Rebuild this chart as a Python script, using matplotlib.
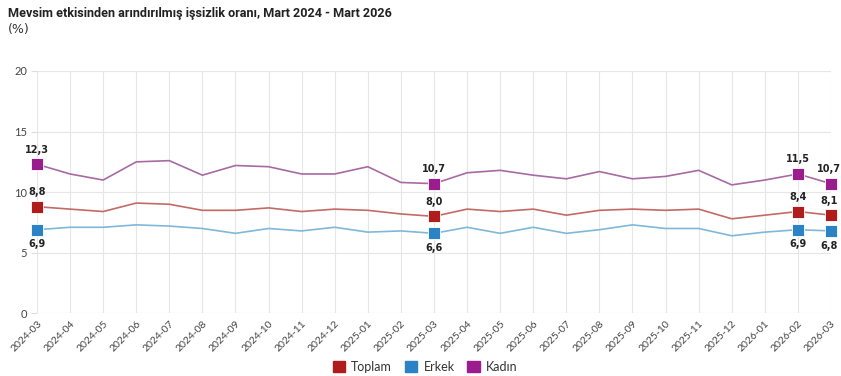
import matplotlib
matplotlib.use("Agg")
import matplotlib.pyplot as plt
from matplotlib.patches import Patch

months = ["2024-03", "2024-04", "2024-05", "2024-06", "2024-07", "2024-08", "2024-09",
          "2024-10", "2024-11", "2024-12", "2025-01", "2025-02", "2025-03", "2025-04",
          "2025-05", "2025-06", "2025-07", "2025-08", "2025-09", "2025-10", "2025-11",
          "2025-12", "2026-01", "2026-02", "2026-03"]

toplam = [8.8, 8.6, 8.4, 9.1, 9.0, 8.5, 8.5, 8.7, 8.4, 8.6, 8.5, 8.2, 8.0, 8.6,
          8.4, 8.6, 8.1, 8.5, 8.6, 8.5, 8.6, 7.8, 8.1, 8.4, 8.1]
erkek = [6.9, 7.1, 7.1, 7.3, 7.2, 7.0, 6.6, 7.0, 6.8, 7.1, 6.7, 6.8, 6.6, 7.1,
         6.6, 7.1, 6.6, 6.9, 7.3, 7.0, 7.0, 6.4, 6.7, 6.9, 6.8]
kadin = [12.3, 11.5, 11.0, 12.5, 12.6, 11.4, 12.2, 12.1, 11.5, 11.5, 12.1, 10.8, 10.7, 11.6,
         11.8, 11.4, 11.1, 11.7, 11.1, 11.3, 11.8, 10.6, 11.0, 11.5, 10.7]

labeled_idx = [0, 12, 23, 24]

series = [
    ("Toplam", toplam, "#b01c1c", "#c46a66", "above"),
    ("Erkek", erkek, "#2b83c6", "#7fb8d8", "below"),
    ("Kadın", kadin, "#9a1c8e", "#a86aa2", "above"),
]

plt.rcParams['font.family'] = ['Lato', 'DejaVu Sans']

fig = plt.figure(figsize=(8.41, 3.76), dpi=100)
ax = fig.add_axes([37/841, 1 - 313.3/376, (831 - 37)/841, (313.3 - 71)/376])

x = list(range(len(months)))
for name, vals, mcol, lcol, pos in series:
    ax.plot(x, vals, color=lcol, lw=1.2, zorder=3, clip_on=False)
    xs = [x[i] for i in labeled_idx]
    ys = [vals[i] for i in labeled_idx]
    ax.scatter(xs, ys, marker='s', s=80, color=mcol, edgecolor='white', linewidth=0.6,
               zorder=4, clip_on=False)
    for i in labeled_idx:
        lab = f"{vals[i]:.1f}".replace('.', ',')
        dy = 10.5 if pos == "above" else -10.5
        dx = -1.5 if i == len(months) - 1 else 0
        ax.annotate(lab, (x[i], vals[i]), xytext=(dx, dy), textcoords='offset points',
                    ha='center', va='center', fontsize=7, fontweight='bold', color='#222222',
                    family=['DejaVu Sans'], annotation_clip=False)

ax.set_xlim(0, 24)
ax.set_ylim(0, 20)
ax.set_yticks([0, 5, 10, 15, 20])
ax.set_xticks(x)
ax.set_xticklabels(months, rotation=45, ha='right', rotation_mode='anchor')
ax.tick_params(axis='x', labelsize=7.5, colors='#444444', length=0, pad=4)
ax.tick_params(axis='y', labelsize=8, colors='#444444', length=4, color='#dddddd', pad=3)
ax.grid(True, color='#e6e6e6', lw=0.8)
ax.set_axisbelow(True)
for s in ax.spines.values():
    s.set_visible(False)

fig.text(8/841, 1 - 14/376, "Mevsim etkisinden arındırılmış işsizlik oranı, Mart 2024 - Mart 2026",
         fontsize=9.1, fontweight='bold', ha='left', va='center', color='#222222',
         family=['Roboto', 'DejaVu Sans'])
fig.text(8/841, 1 - 30/376, "(%)", fontsize=9, ha='left', va='center', color='#333333',
         family=['DejaVu Sans'])

handles = [Patch(facecolor=c, edgecolor=c, label=n) for n, _, c, _, _ in series]
fig.legend(handles=handles, loc='center', bbox_to_anchor=(425/841, 1 - 367/376), ncol=3,
           frameon=False, fontsize=9, handlelength=1.0, handleheight=1.0,
           columnspacing=1.0, handletextpad=0.5, labelcolor='#333333', borderpad=0.1)

fig.savefig("out.png", dpi=100)
